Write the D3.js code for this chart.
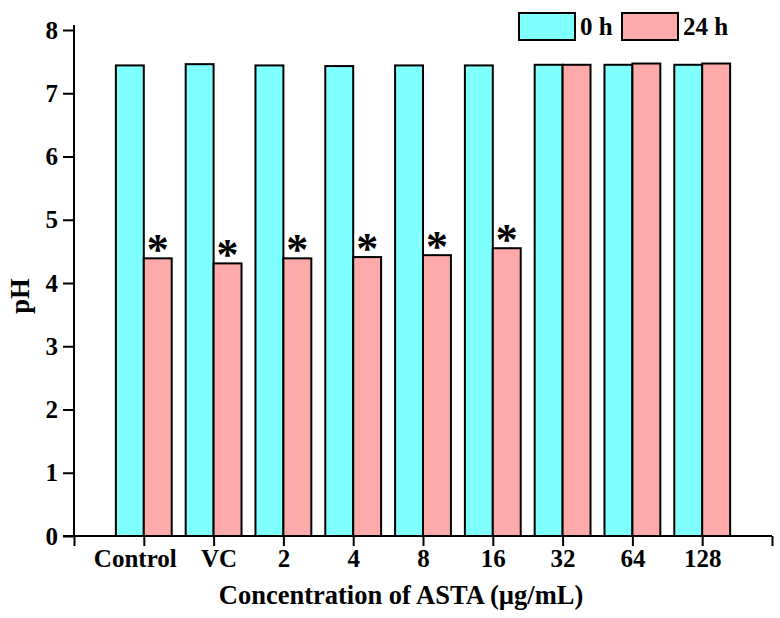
<!DOCTYPE html>
<html>
<head>
<meta charset="utf-8">
<script src="https://cdn.jsdelivr.net/npm/d3@7"></script>
<style>
  body { margin: 0; background: #fff; }
  text { font-family: "Liberation Serif", "Times New Roman", serif; font-weight: bold; fill: #000; }
</style>
</head>
<body>
<svg id="chart" width="780" height="618"></svg>
<script>
// categories along the x axis
const categories = ['Control', 'VC', '2', '4', '8', '16', '32', '64', '128']
// pH
const ph0h = [7.44, 7.46, 7.44, 7.43, 7.44, 7.44, 7.45, 7.45, 7.45]
const ph24h = [4.39, 4.31, 4.39, 4.41, 4.44, 4.55, 7.45, 7.47, 7.47]
// which 24 h bars get an asterisk
const significant = [true, true, true, true, true, true, false, false, false]
const yTicks = [0, 1, 2, 3, 4, 5, 6, 7, 8]
const seriesNames = ['0 h', '24 h']
const colors = ['#80ffff', '#ffaaaa']

const svg = d3.select('#chart')

const x = d3.scaleLinear().domain([0, categories.length + 1]).range([74, 772])
const y = d3.scaleLinear().domain([0, 8]).range([536, 30])
const barW = (x(1) - x(0)) * 0.4

// bars
const rows = categories.map((c, i) => ({ c, i, v: [ph0h[i], ph24h[i]], sig: significant[i] }))
const groups = svg.append('g').selectAll('g')
  .data(rows)
  .enter().append('g')
  .attr('transform', d => `translate(${x(d.i + 1)},0)`)

groups.selectAll('rect')
  .data(d => d.v.map((v, k) => ({ v, k })))
  .enter().append('rect')
  .attr('x', d => d.k === 0 ? -barW : 0)
  .attr('y', d => y(d.v))
  .attr('width', barW)
  .attr('height', d => y(0) - y(d.v))
  .attr('fill', d => colors[d.k])
  .attr('stroke', '#000')
  .attr('stroke-width', 2)

groups.filter(d => d.sig).append('text')
  .attr('x', barW / 2)
  .attr('y', d => y(d.v[1]) + 6)
  .attr('text-anchor', 'middle')
  .style('font-size', '44px')
  .text('*')

// axes
const xAxis = svg.append('g')
  .attr('transform', `translate(0,${y(0)})`)
  .call(d3.axisBottom(x)
    .tickValues(d3.range(0, categories.length + 2))
    .tickSize(10)
    .tickSizeOuter(0)
    .tickFormat(d => categories[d - 1] || ''))
xAxis.select('.domain').attr('stroke-width', 2).attr('d', `M${x(0) - 11},0H${x(categories.length + 1)}`)
xAxis.selectAll('line').attr('stroke-width', 2)
// the first two labels sit a little off their ticks in the original
xAxis.selectAll('text').style('font-size', '25px').attr('y', 13).attr('dy', '0.71em')
  .attr('dx', d => d === 1 ? -9 : d === 2 ? 5 : 0)

const yAxis = svg.append('g')
  .attr('transform', `translate(${x(0)},0)`)
  .call(d3.axisLeft(y).tickValues(yTicks).tickSize(11).tickSizeOuter(0))
yAxis.select('.domain').attr('stroke-width', 2).attr('d', `M0,${y(8) - 5}V${y(0)}`)
yAxis.selectAll('line').attr('stroke-width', 2)
yAxis.selectAll('text').style('font-size', '25px').attr('x', -16)

// axis titles
svg.append('text')
  .attr('x', 401).attr('y', 604)
  .attr('text-anchor', 'middle')
  .style('font-size', '26.5px')
  .text('Concentration of ASTA (µg/mL)')

svg.append('text')
  .attr('transform', 'translate(29,296) rotate(-90)')
  .attr('text-anchor', 'middle')
  .style('font-size', '26.5px')
  .text('pH')

// legend
const legend = svg.append('g').selectAll('g')
  .data(seriesNames)
  .enter().append('g')
  .attr('transform', (d, i) => `translate(${[519, 622][i]},13)`)
legend.append('rect')
  .attr('width', 56).attr('height', 27)
  .attr('fill', (d, i) => colors[i])
  .attr('stroke', '#000').attr('stroke-width', 2)
legend.append('text')
  .attr('x', 61).attr('y', 22)
  .style('font-size', '25px')
  .text(d => d)
</script>
</body>
</html>
